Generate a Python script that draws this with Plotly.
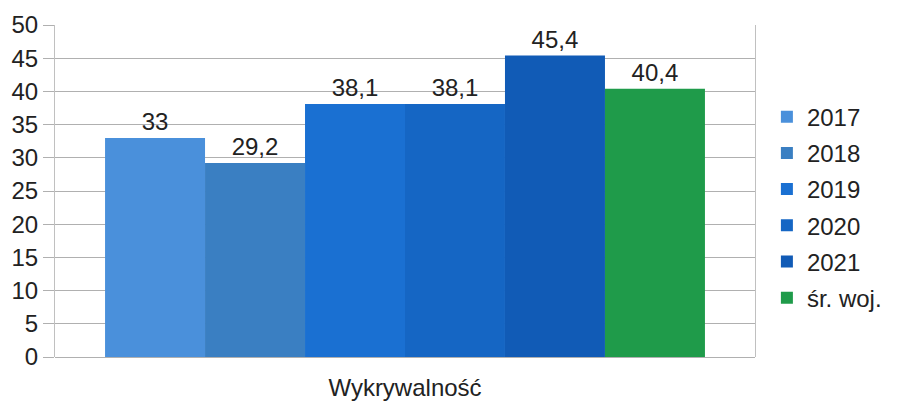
import plotly.graph_objects as go

category = ["Wykrywalność"]
series_names = ["2017", "2018", "2019", "2020", "2021", "śr. woj."]
values = [33, 29.2, 38.1, 38.1, 45.4, 40.4]
colors = ["#4a90db", "#3a7fc2", "#1a70d2", "#1566c4", "#115bb6", "#1f9b4a"]

fig = go.Figure()
for i, (name, v, c) in enumerate(zip(series_names, values, colors)):
    fig.add_trace(go.Bar(
        x=category, y=[v], name=name,
        marker=dict(color=c, line=dict(width=0)),
        text=[v], texttemplate="%{y}", textposition="outside",
        textfont=dict(size=24, color="#222222"), cliponaxis=False,
        legendgroup=name,
    ))

fig.update_layout(
    width=899, height=403,
    margin=dict(l=55, r=129, t=25, b=46),
    barmode="group", bargap=0.143, bargroupgap=0,
    separators=",.",
    paper_bgcolor="white", plot_bgcolor="white",
    font=dict(family="Liberation Sans, Arial, sans-serif", size=24, color="#222222"),
    showlegend=True,
    legend=dict(x=1.017, xanchor="left", y=0.45, yanchor="middle",
                font=dict(size=24, color="#222222"), tracegroupgap=2,
                itemwidth=30, bgcolor="rgba(0,0,0,0)"),
    yaxis=dict(range=[0, 50], dtick=5, showgrid=True, gridcolor="#b0b0b0",
               gridwidth=1, zeroline=True, zerolinecolor="#b0b0b0", zerolinewidth=1,
               showline=True, linecolor="#c0c0c0", linewidth=1, mirror=True,
               ticks="outside", ticklen=11, tickcolor="#b0b0b0", automargin=False,
               tickfont=dict(size=24, color="#222222")),
    xaxis=dict(showgrid=False, showline=False, tickfont=dict(size=24, color="#222222"),
               ticks="outside", ticklen=9, tickcolor="rgba(0,0,0,0)", automargin=False),
)

fig.write_html("out.html", config={"displayModeBar": False},
               post_script="document.body.style.margin='0';")
